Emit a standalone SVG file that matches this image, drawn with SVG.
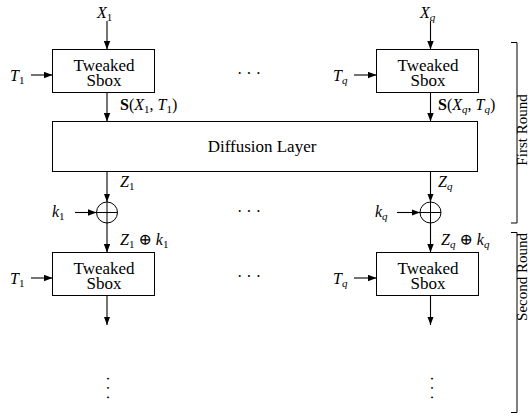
<svg xmlns="http://www.w3.org/2000/svg" width="531" height="416" viewBox="0 0 531 416" font-family="'Liberation Serif','DejaVu Serif','Times New Roman',serif">
<defs>
<marker id="ah" markerUnits="userSpaceOnUse" markerWidth="9" markerHeight="7" refX="8.5" refY="3.2" orient="auto">
<path d="M0,0 L8.5,3.2 L0,6.4 z" fill="#000"/>
</marker>
</defs>
<style>
text,tspan{font-family:'Liberation Serif','DejaVu Serif','Times New Roman',serif;fill:#000}
.box{fill:#fff;stroke:#000;stroke-width:1}
.lbl{font-size:17px}
.m{font-size:16px}
.v{font-style:italic}
.sub{font-size:11px}
.b{font-weight:bold}
.con line{stroke:#000;stroke-width:1.1;marker-end:url(#ah)}
.xor{fill:none;stroke:#000;stroke-width:1}
.br{fill:none;stroke:#000;stroke-width:1}
.rl{font-size:15px}
.dots{font-size:16px}
</style>

<g id="connectors" class="con">
<line x1="107" y1="21" x2="107" y2="49.5"/>
<line x1="430.5" y1="21" x2="430.5" y2="49.5"/>
<line x1="31" y1="75" x2="52.5" y2="75"/>
<line x1="354" y1="75" x2="376.5" y2="75"/>
<line x1="107" y1="92.5" x2="107" y2="121.5"/>
<line x1="430.5" y1="92.5" x2="430.5" y2="121.5"/>
<line x1="107" y1="171.5" x2="107" y2="202"/>
<line x1="430.5" y1="171.5" x2="430.5" y2="202"/>
<line x1="75" y1="212.5" x2="96.5" y2="212.5"/>
<line x1="397" y1="212.5" x2="420" y2="212.5"/>
<line x1="107" y1="223" x2="107" y2="252.5"/>
<line x1="430.5" y1="223" x2="430.5" y2="252.5"/>
<line x1="31" y1="278" x2="52.5" y2="278"/>
<line x1="354" y1="278" x2="376.5" y2="278"/>
<line x1="107" y1="295.5" x2="107" y2="325"/>
<line x1="430.5" y1="295.5" x2="430.5" y2="325"/>
</g>

<g id="sbox1-1">
<rect class="box" x="52.5" y="49.5" width="102" height="43"/>
<text class="lbl" x="104" y="71" text-anchor="middle">Tweaked</text>
<text class="lbl" x="104" y="86" text-anchor="middle">Sbox</text>
</g>
<g id="sbox1-q">
<rect class="box" x="376.5" y="49.5" width="102" height="43"/>
<text class="lbl" x="428" y="71" text-anchor="middle">Tweaked</text>
<text class="lbl" x="428" y="86" text-anchor="middle">Sbox</text>
</g>
<g id="diffusion">
<rect class="box" x="52.5" y="121.5" width="425" height="50"/>
<text class="lbl" x="262" y="151.5" text-anchor="middle">Diffusion Layer</text>
</g>
<g id="xor-1">
<circle class="xor" cx="107" cy="212.5" r="10.5"/>
<path class="xor" d="M96.5,212.5 H117.5 M107,202 V223"/>
</g>
<g id="xor-q">
<circle class="xor" cx="430.5" cy="212.5" r="10.5"/>
<path class="xor" d="M420,212.5 H441 M430.5,202 V223"/>
</g>
<g id="sbox2-1">
<rect class="box" x="52.5" y="252.5" width="102" height="43"/>
<text class="lbl" x="104" y="274" text-anchor="middle">Tweaked</text>
<text class="lbl" x="104" y="289" text-anchor="middle">Sbox</text>
</g>
<g id="sbox2-q">
<rect class="box" x="376.5" y="252.5" width="102" height="43"/>
<text class="lbl" x="428" y="274" text-anchor="middle">Tweaked</text>
<text class="lbl" x="428" y="289" text-anchor="middle">Sbox</text>
</g>

<g id="labels" class="m">
<text x="97" y="18"><tspan class="v">X</tspan><tspan class="sub" dy="3">1</tspan></text>
<text x="420" y="18"><tspan class="v">X</tspan><tspan class="sub v" dy="3">q</tspan></text>
<text x="10" y="81"><tspan class="v">T</tspan><tspan class="sub" dy="3">1</tspan></text>
<text x="333" y="81"><tspan class="v">T</tspan><tspan class="sub v" dy="3">q</tspan></text>
<text x="120" y="110"><tspan class="b">S</tspan>(<tspan class="v">X</tspan><tspan class="sub" dy="3">1</tspan><tspan dy="-3">, </tspan><tspan class="v">T</tspan><tspan class="sub" dy="3">1</tspan><tspan dy="-3">)</tspan></text>
<text x="438" y="110"><tspan class="b">S</tspan>(<tspan class="v">X</tspan><tspan class="sub v" dy="3">q</tspan><tspan dy="-3">, </tspan><tspan class="v">T</tspan><tspan class="sub v" dy="3">q</tspan><tspan dy="-3">)</tspan></text>
<text x="120" y="187"><tspan class="v">Z</tspan><tspan class="sub" dy="3">1</tspan></text>
<text x="438" y="187"><tspan class="v">Z</tspan><tspan class="sub v" dy="3">q</tspan></text>
<text x="52" y="217"><tspan class="v">k</tspan><tspan class="sub" dy="3">1</tspan></text>
<text x="375" y="217"><tspan class="v">k</tspan><tspan class="sub v" dy="3">q</tspan></text>
<text x="120" y="245"><tspan class="v">Z</tspan><tspan class="sub" dy="3">1</tspan><tspan dy="-3"> ⊕ </tspan><tspan class="v">k</tspan><tspan class="sub" dy="3">1</tspan></text>
<text x="441" y="245"><tspan class="v">Z</tspan><tspan class="sub v" dy="3">q</tspan><tspan dy="-3"> ⊕ </tspan><tspan class="v">k</tspan><tspan class="sub v" dy="3">q</tspan></text>
<text x="10" y="284"><tspan class="v">T</tspan><tspan class="sub" dy="3">1</tspan></text>
<text x="333" y="284"><tspan class="v">T</tspan><tspan class="sub v" dy="3">q</tspan></text>
</g>

<g id="ellipses" class="dots">
<text x="249" y="79" text-anchor="middle">· · ·</text>
<text x="249" y="217" text-anchor="middle">· · ·</text>
<text x="249" y="282" text-anchor="middle">· · ·</text>
<text transform="translate(107,388) rotate(90)" x="0" y="5" text-anchor="middle">· · ·</text>
<text transform="translate(430.5,388) rotate(90)" x="0" y="5" text-anchor="middle">· · ·</text>
</g>

<g id="round-brackets">
<path class="br" d="M511,42.5 H517 V223 H511"/>
<path class="br" d="M511,232.5 H517 V412.5 H511"/>
<text class="rl" transform="translate(527,130) rotate(-90)" text-anchor="middle">First Round</text>
<text class="rl" transform="translate(527,277) rotate(-90)" text-anchor="middle">Second Round</text>
</g>
</svg>
